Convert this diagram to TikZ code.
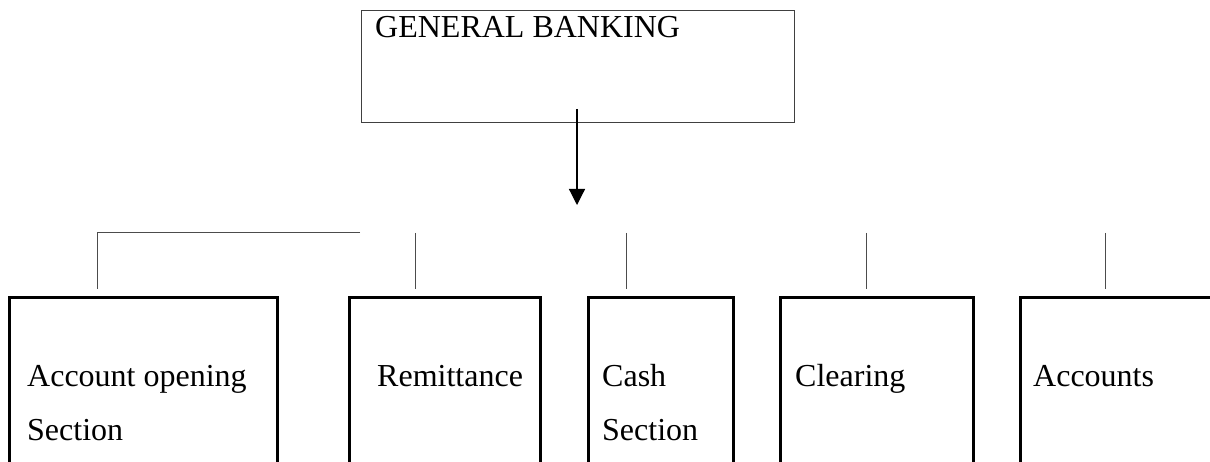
\documentclass[tikz,border=0pt]{standalone}
\usepackage{fontspec}
\setmainfont{Liberation Serif}
\usetikzlibrary{arrows.meta}
\begin{document}
\begin{tikzpicture}[x=1pt,y=-1pt,
  topbox/.style={draw=black!75,line width=1pt,rectangle,inner sep=0pt,anchor=north west},
  secbox/.style={draw=black,line width=3pt,rectangle,inner sep=0pt,anchor=north west,minimum height=190pt},
  lbl/.style={anchor=base west,inner sep=0pt,font=\fontsize{32}{38}\selectfont},
  conn/.style={draw=black!70,line width=1pt},
]
\useasboundingbox (0,0) rectangle (1210,462);
\clip (0,0) rectangle (1210,462);
% top box
\node[topbox,minimum width=433pt,minimum height=112pt] (gb) at (361,10) {};
\node[lbl] (gbt) at (375,38) {GENERAL BANKING};
% section boxes
\node[secbox,minimum width=268pt] (b1) at (8,296) {};
\node[secbox,minimum width=191pt] (b2) at (348,296) {};
\node[secbox,minimum width=145pt] (b3) at (587,296) {};
\node[secbox,minimum width=193pt] (b4) at (779,296) {};
\node[secbox,minimum width=250pt] (b5) at (1019,296) {};
% labels
\node[lbl] (t1a) at (27,386) {Account opening};
\node[lbl] (t1b) at (27,440) {Section};
\node[lbl] (t2) at (377,386) {Remittance};
\node[lbl] (t3a) at (602,386) {Cash};
\node[lbl] (t3b) at (602,440) {Section};
\node[lbl] (t4) at (795,386) {Clearing};
\node[lbl] (t5) at (1033,386) {Accounts};
% arrow
\coordinate (as) at (577,109);
\coordinate (ae) at (577,205);
\draw[line width=1.2pt,-{Triangle[length=16pt,width=16pt]}] (as) -- (ae);
% connector coordinates
\coordinate (h1) at (97,233);
\coordinate (h2) at (360,233);
\coordinate (v1) at (97,289);
\coordinate (c2a) at (415,233);
\coordinate (c2b) at (415,289);
\coordinate (c3a) at (626,233);
\coordinate (c3b) at (626,289);
\coordinate (c4a) at (866,233);
\coordinate (c4b) at (866,289);
\coordinate (c5a) at (1105,233);
\coordinate (c5b) at (1105,289);
\draw[conn] (h2) -- (h1) -- (v1);
\draw[conn] (c2a) -- (c2b);
\draw[conn] (c3a) -- (c3b);
\draw[conn] (c4a) -- (c4b);
\draw[conn] (c5a) -- (c5b);
\end{tikzpicture}
\end{document}
